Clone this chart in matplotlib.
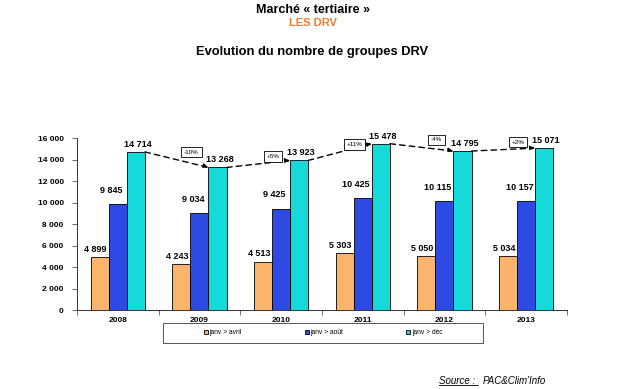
import matplotlib.pyplot as plt
import numpy as np

plt.rcParams['font.family'] = ['Liberation Sans', 'DejaVu Sans']

years = ["2008", "2009", "2010", "2011", "2012", "2013"]
avril = [4899, 4243, 4513, 5303, 5050, 5034]
aout = [9845, 9034, 9425, 10425, 10115, 10157]
dec = [14714, 13268, 13923, 15478, 14795, 15071]
evol = ["-10%", "+5%", "+11%", "-4%", "+2%"]
series_names = ["janv > avril", "janv > août", "janv > déc"]
colors = ["#FAB46C", "#2D4BE3", "#16DADA"]


def fmt(v):
    return f"{v:,}".replace(",", " ")


fig = plt.figure(figsize=(6.25, 3.89), dpi=100)
ax = fig.add_axes([0.123, 0.203, 0.784, 0.442])

x = np.arange(len(years))
w = 0.222
# label shifts (x in category units, y in data units) as Excel placed them
lab_dx = [-0.05, -0.08, 0.025]
lab_dy = [470, 1050, 470]
handles = []
for i, (vals, c) in enumerate(zip([avril, aout, dec], colors)):
    pos = x + (i - 1) * w
    b = ax.bar(pos, vals, w, color=c, edgecolor="black", linewidth=0.6,
               label=series_names[i], zorder=3)
    handles.append(b)
    for p, v in zip(pos, vals):
        ax.text(p + lab_dx[i], v + lab_dy[i], fmt(v), ha="center",
                va="baseline", fontsize=6.5, fontweight="bold", zorder=6)

# dashed arrows between the dec bars
for k in range(len(years) - 1):
    x0, y0 = x[k] + 1.5 * w, dec[k]
    x1, y1 = x[k + 1] + 0.5 * w, dec[k + 1]
    ax.annotate("", xy=(x1, y1), xytext=(x0, y0),
                arrowprops=dict(arrowstyle="-|>", linestyle=(0, (4, 3)),
                                color="black", lw=1, mutation_scale=7,
                                shrinkA=0, shrinkB=0), zorder=4)
    ax.text((x[k] + x[k + 1]) / 2 + w + 0.18, (y0 + y1) / 2 + 700, evol[k],
            ha="center", va="center", fontsize=4.5,
            bbox=dict(boxstyle="square,pad=0.45", fc="white", ec="black",
                      lw=0.6), zorder=5)

ax.set_xlim(-0.5, len(years) - 0.5)
ax.set_ylim(0, 16000)
ax.set_yticks(np.arange(0, 16001, 2000))
ax.set_yticklabels([fmt(v) for v in range(0, 16001, 2000)],
                   fontsize=6, fontweight="bold")
ax.set_xticks(x)
ax.set_xticklabels(years, fontsize=6, fontweight="bold")
ax.set_xticks(np.arange(-0.5, len(years)), minor=True)
ax.tick_params(axis="x", which="major", length=0, pad=5)
ax.tick_params(axis="x", which="minor", length=3.5, width=0.6, color="#555555")
ax.tick_params(axis="y", length=3.5, width=0.6, pad=6, color="#555555")
for s in ["top", "right"]:
    ax.spines[s].set_visible(False)
for s in ["left", "bottom"]:
    ax.spines[s].set_linewidth(0.7)
    ax.spines[s].set_color("#333333")

# legend: frameless legend inside a drawn box
fig.add_artist(plt.Rectangle((0.261, 0.118), 0.512, 0.052,
                             transform=fig.transFigure, fc="white",
                             ec="#555555", lw=0.7))
fig.legend(handles=handles, loc="center", bbox_to_anchor=(0.517, 0.144),
           ncol=3, fontsize=4.8, frameon=False, handlelength=0.6,
           handleheight=0.6, handletextpad=0.2, columnspacing=9.5)

fig.text(0.5, 0.974, "Marché « tertiaire »", ha="center", va="center",
         fontsize=9, fontweight="bold")
fig.text(0.5, 0.940, "LES DRV", ha="center", va="center",
         fontsize=8, fontweight="bold", color="#F07A28")
fig.text(0.5, 0.859, "Evolution du nombre de groupes DRV", ha="center",
         va="baseline", fontsize=9.3, fontweight="bold")

# source line with underlined "Source :"
fig.text(0.703, 0.021, "Source :", ha="left", va="center", fontsize=7,
         style="italic")
fig.add_artist(plt.Line2D([0.703, 0.765], [0.009, 0.009], color="black",
                          lw=0.6))
fig.text(0.772, 0.021, "PAC&Clim'Info", ha="left", va="center",
         fontsize=7, style="italic")

fig.savefig("out.png", dpi=100)
